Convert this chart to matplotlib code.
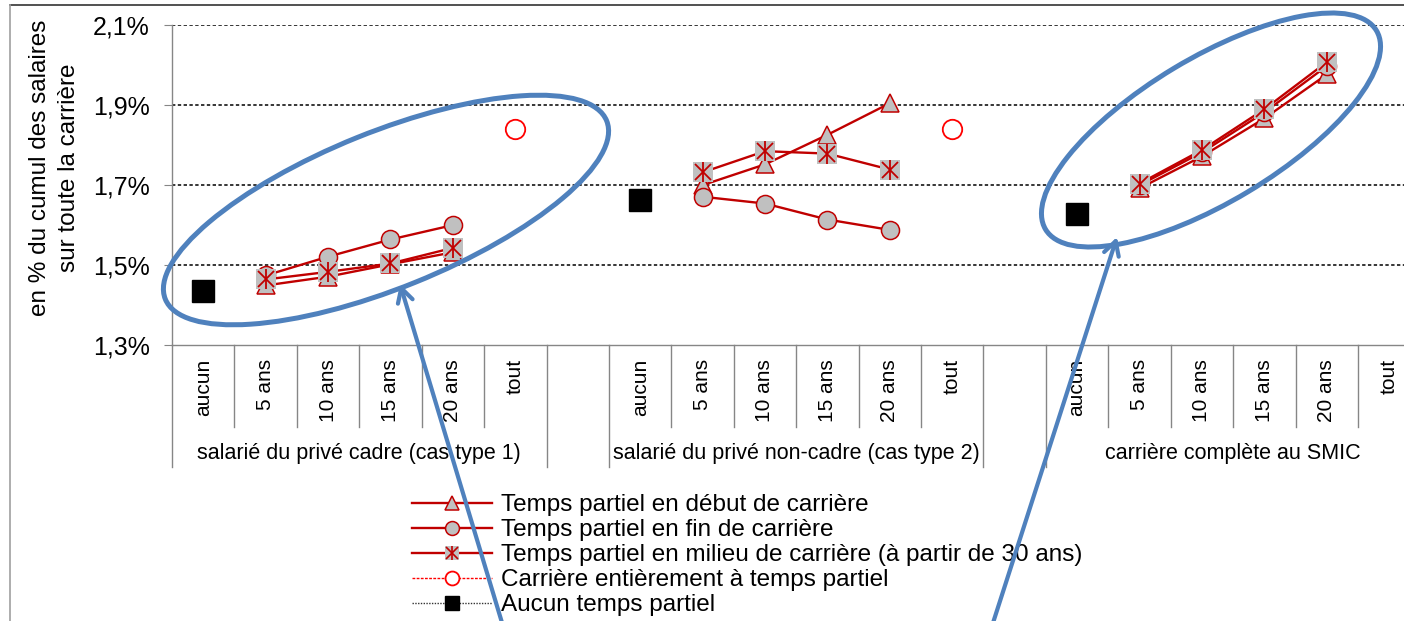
import matplotlib.pyplot as plt
import numpy as np
from matplotlib.lines import Line2D
from matplotlib.patches import Ellipse

plt.rcParams["font.family"] = ["Liberation Sans", "DejaVu Sans"]

nan = np.nan

# Categories
categories = ["aucun", "5 ans", "10 ans", "15 ans", "20 ans", "tout"]
groups = [
    "salarié du privé cadre (cas type 1)",
    "salarié du privé non-cadre (cas type 2)",
    "carrière complète au SMIC",
]

# Series (one value per category, group after group)
debut = [nan, 1.449, 1.471, 1.502, 1.532, nan,
         nan, 1.700, 1.752, 1.826, 1.905, nan,
         nan, 1.692, 1.772, 1.867, 1.977, nan]
fin = [nan, 1.474, 1.521, 1.564, 1.600, nan,
       nan, 1.671, 1.654, 1.614, 1.588, nan,
       nan, 1.700, 1.782, 1.882, 1.998, nan]
milieu = [nan, 1.464, 1.483, 1.504, 1.543, nan,
          nan, 1.732, 1.785, 1.779, 1.739, nan,
          nan, 1.704, 1.788, 1.890, 2.008, nan]
tout = [nan, nan, nan, nan, nan, 1.840,
        nan, nan, nan, nan, nan, 1.840,
        nan, nan, nan, nan, nan, nan]
aucun = [1.434, nan, nan, nan, nan, nan,
         1.664, nan, nan, nan, nan, nan,
         1.628, nan, nan, nan, nan, nan]

legend_labels = [
    "Temps partiel en début de carrière",
    "Temps partiel en fin de carrière",
    "Temps partiel en milieu de carrière (à partir de 30 ans)",
    "Carrière entièrement à temps partiel",
    "Aucun temps partiel",
]

RED = "#C00000"
GREY = "#C0C0C0"
BLUE = "#4F81BD"
AXIS = "#868686"

W, H = 1404, 621
fig = plt.figure(figsize=(W / 100, H / 100), dpi=100)

# plot area (right side runs past the picture edge, as in the reference)
x0, x1, ytop, ybot = 172, 1420.4, 25.3, 345
ax = fig.add_axes([x0 / W, (H - ybot) / H, (x1 - x0) / W, (ybot - ytop) / H])
ax.set_xlim(0, 20)
ax.set_ylim(1.3, 2.1)

slot = np.array([g * 7 + i + 0.5 for g in range(len(groups)) for i in range(len(categories))])

for y in [1.5, 1.7, 1.9, 2.1]:
    ax.axhline(y, color="black", lw=1.1, ls=(0, (2.2, 1.6)), zorder=1)

ax.plot(slot, debut, color=RED, lw=1.7, marker="^", ms=13, mfc=GREY, mec=RED, mew=1.1, zorder=3)
ax.plot(slot, fin, color=RED, lw=1.7, marker="o", ms=13, mfc=GREY, mec=RED, mew=1.1, zorder=4)
ax.plot(slot, milieu, color=RED, lw=1.7, marker="s", ms=14, mfc=GREY, mec=GREY, mew=0, zorder=5)
ax.plot(slot, milieu, ls="none", marker="x", ms=11, mec=RED, mew=1.3, zorder=6)
ax.plot(slot, milieu, ls="none", marker="|", ms=14, mec=RED, mew=1.3, zorder=6)
ax.plot(slot, tout, ls="none", marker="o", ms=14, mfc="white", mec="#FF0000", mew=1.3, zorder=5)
ax.plot(slot, aucun, ls="none", marker="s", ms=16.5, mfc="black", mec="black", zorder=5)

for s in ["top", "right"]:
    ax.spines[s].set_visible(False)
for s in ["left", "bottom"]:
    ax.spines[s].set_color(AXIS)
    ax.spines[s].set_linewidth(1.0)

ax.set_yticks([1.3, 1.5, 1.7, 1.9, 2.1])
ax.set_yticklabels([f"{v:.1f}%".replace(".", ",") for v in [1.3, 1.5, 1.7, 1.9, 2.1]])
ax.tick_params(axis="y", direction="out", length=6, color=AXIS, labelsize=18, pad=10)
ax.set_xticks([])

# category separators and labels below the axis
tr = ax.get_xaxis_transform()
short_len = (427 - ybot) / (ybot - ytop)
long_len = (467 - ybot) / (ybot - ytop)
for k in range(21):
    depth = long_len if k in (0, 6, 7, 13, 14, 20) else short_len
    ax.plot([k, k], [0, -depth], transform=tr, color=AXIS, lw=1.0, clip_on=False)
for pos, lab in zip(slot, categories * len(groups)):
    ax.text(pos, -(359 - ybot) / (ybot - ytop), lab, transform=tr, rotation=90,
            ha="center", va="top", fontsize=15)
for g, name in enumerate(groups):
    ax.text(g * 7 + 3, -(453 - ybot) / (ybot - ytop), name, transform=tr,
            ha="center", va="center", fontsize=15.5)

fig.text(40 / W, 1 - 168 / H, "en % du cumul des salaires", rotation=90,
         ha="center", va="center", fontsize=17.5)
fig.text(69 / W, 1 - 168 / H, "sur toute la carrière", rotation=90,
         ha="center", va="center", fontsize=17.5)

# legend
h_debut = Line2D([], [], color=RED, lw=1.7, marker="^", ms=10, mfc=GREY, mec=RED, mew=1.1)
h_fin = Line2D([], [], color=RED, lw=1.7, marker="o", ms=10, mfc=GREY, mec=RED, mew=1.1)
h_mil = (Line2D([], [], color=RED, lw=1.7, marker="s", ms=10, mfc=GREY, mec=GREY, mew=0),
         Line2D([], [], ls="none", marker="x", ms=8, mec=RED, mew=1.2),
         Line2D([], [], ls="none", marker="|", ms=10, mec=RED, mew=1.2))
h_tout = Line2D([], [], color="#FF0000", lw=1.0, ls=(0, (2, 1)), marker="o", ms=10,
                mfc="white", mec="#FF0000", mew=1.3)
h_aucun = Line2D([], [], color="#333333", lw=1.0, ls=(0, (1, 1)), marker="s", ms=10,
                 mfc="black", mec="black")
fig.legend([h_debut, h_fin, h_mil, h_tout, h_aucun], legend_labels,
           loc="upper left", bbox_to_anchor=(412 / W, 1 - 494 / H), frameon=False,
           fontsize=17.5, handlelength=3.3, handletextpad=0.37, labelspacing=0.125,
           borderpad=0, borderaxespad=0)

# annotation overlay in pixel coordinates
ov = fig.add_axes([0, 0, 1, 1], zorder=10)
ov.set_xlim(0, W)
ov.set_ylim(H, 0)
ov.axis("off")
ov.patch.set_alpha(0)

ov.plot([10, W], [5, 5], color="#333333", lw=1.2)
ov.plot([10, 10], [5, H], color="#A0A0A0", lw=1.2)

ov.add_patch(Ellipse((386, 210), 2 * 238, 2 * 78, angle=-22, fill=False, ec=BLUE, lw=3.6))
ov.add_patch(Ellipse((1211, 130), 2 * 193, 2 * 72, angle=-31, fill=False, ec=BLUE, lw=3.6))
arrow_style = dict(arrowstyle="->,head_length=1.0,head_width=0.55", color=BLUE, lw=3.0,
                   shrinkA=0, shrinkB=0)
ov.annotate("", xy=(400, 284), xytext=(503, H + 5), arrowprops=arrow_style)
ov.annotate("", xy=(1117, 237), xytext=(992, H + 5), arrowprops=arrow_style)

fig.savefig("out.png", dpi=100)
